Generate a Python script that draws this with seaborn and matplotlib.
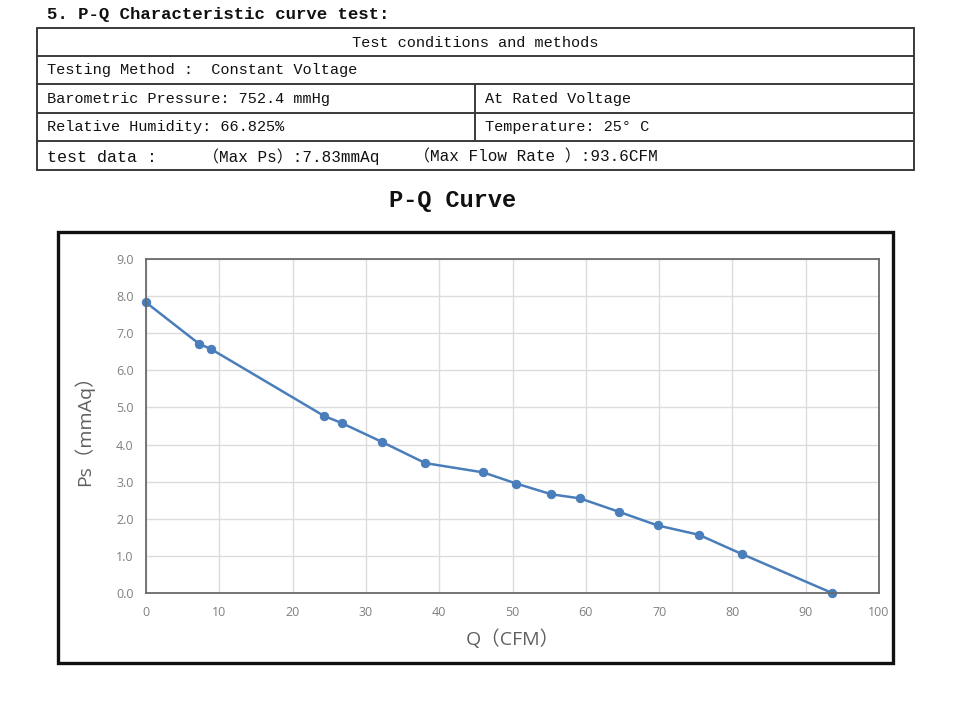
import numpy as np
import pandas as pd
import matplotlib
matplotlib.use("Agg")
import matplotlib.pyplot as plt
import seaborn as sns
from matplotlib.patches import Rectangle
from matplotlib.lines import Line2D

# P-Q data
flow_cfm = [0.0, 7.2, 8.9, 24.3, 26.7, 32.2, 38.1, 46.0, 50.5, 55.3, 59.2, 64.5, 69.8, 75.4, 81.3, 93.6]
ps_mmaq = [7.83, 6.72, 6.57, 4.77, 4.58, 4.07, 3.50, 3.25, 2.95, 2.66, 2.55, 2.19, 1.82, 1.57, 1.05, 0.0]

x_ticks = [0, 10, 20, 30, 40, 50, 60, 70, 80, 90, 100]
y_ticks = [0, 1, 2, 3, 4, 5, 6, 7, 8, 9]

W, H = 961, 703

sns.set_style("white")
plt.rcParams["font.family"] = ["Liberation Mono", "Noto Sans CJK SC", "DejaVu Sans"]

fig = plt.figure(figsize=(W / 100, H / 100), dpi=100)


def fx(px):
    return px / W


def fy(py):
    return 1 - py / H


def hline(x0, x1, y, lw=1.4, color="#3a3a3a"):
    fig.add_artist(Line2D([fx(x0), fx(x1)], [fy(y), fy(y)], lw=lw, color=color))


def vline(x, y0, y1, lw=1.4, color="#3a3a3a"):
    fig.add_artist(Line2D([fx(x), fx(x)], [fy(y0), fy(y1)], lw=lw, color=color))


# heading + conditions table
fig.text(fx(47), fy(15), "5. P-Q Characteristic curve test:", fontsize=12.5,
         fontweight="bold", va="center", ha="left", color="#111111")

tl, tr = 37, 914
rows = [28, 56, 84, 113, 141, 170]
for y in rows:
    hline(tl, tr, y)
vline(tl, 28, 170)
vline(tr, 28, 170)
vline(475, 84, 141)

row_font = dict(fontsize=11, va="center", color="#111111")
fig.text(fx(475), fy(43), "Test conditions and methods", ha="center", **row_font)
fig.text(fx(47), fy(70), "Testing Method :  Constant Voltage", ha="left", **row_font)
fig.text(fx(47), fy(99), "Barometric Pressure: 752.4 mmHg", ha="left", **row_font)
fig.text(fx(485), fy(99), "At Rated Voltage", ha="left", **row_font)
fig.text(fx(47), fy(127), "Relative Humidity: 66.825%", ha="left", **row_font)
fig.text(fx(485), fy(127), "Temperature: 25° C", ha="left", **row_font)
fig.text(fx(47), fy(157), "test data :", ha="left", fontsize=12, va="center", color="#111111")
fig.text(fx(203), fy(157), "（Max Ps）:7.83mmAq", ha="left", fontsize=11.5, va="center", color="#111111")
fig.text(fx(414), fy(157), "（Max Flow Rate ）:93.6CFM", ha="left", fontsize=11.5, va="center", color="#111111")

fig.text(fx(453), fy(200), "P-Q Curve", ha="center", va="center", fontsize=17,
         fontweight="bold", color="#111111")

# chart frame
fig.add_artist(Rectangle((fx(58), fy(663)), fx(893 - 58), (663 - 232) / H,
                         fill=False, lw=2.4, edgecolor="#111111"))

ax = fig.add_axes([fx(146), fy(593), fx(879 - 146), (593 - 259) / H])
df = pd.DataFrame({"Q": flow_cfm, "Ps": ps_mmaq})
sns.lineplot(data=df, x="Q", y="Ps", ax=ax, sort=False, color="#4a7ebb",
             lw=1.8, marker="o", markersize=6, markeredgecolor="#4a7ebb", clip_on=False)

ax.set_xlim(0, 100)
ax.set_ylim(0, 9)
ax.set_xticks(x_ticks)
ax.set_yticks(y_ticks)
ax.set_yticklabels([f"{v:.1f}" for v in y_ticks])
ax.grid(True, color="#dcdcdc", lw=1)
ax.set_axisbelow(True)
for s in ax.spines.values():
    s.set_color("#6a6a6a")
    s.set_linewidth(1.3)
ax.tick_params(length=0, labelsize=9, colors="#808080", pad=9)
for lab in ax.get_xticklabels() + ax.get_yticklabels():
    lab.set_family(["Open Sans", "DejaVu Sans"])

ax.set_xlabel("Q（CFM）", fontsize=14, color="#606060",
              family=["Open Sans", "Noto Sans CJK SC"], labelpad=8)
ax.set_ylabel("Ps（mmAq）", fontsize=14, color="#606060",
              family=["Open Sans", "Noto Sans CJK SC"], labelpad=16)

fig.savefig("out.png", dpi=100)
